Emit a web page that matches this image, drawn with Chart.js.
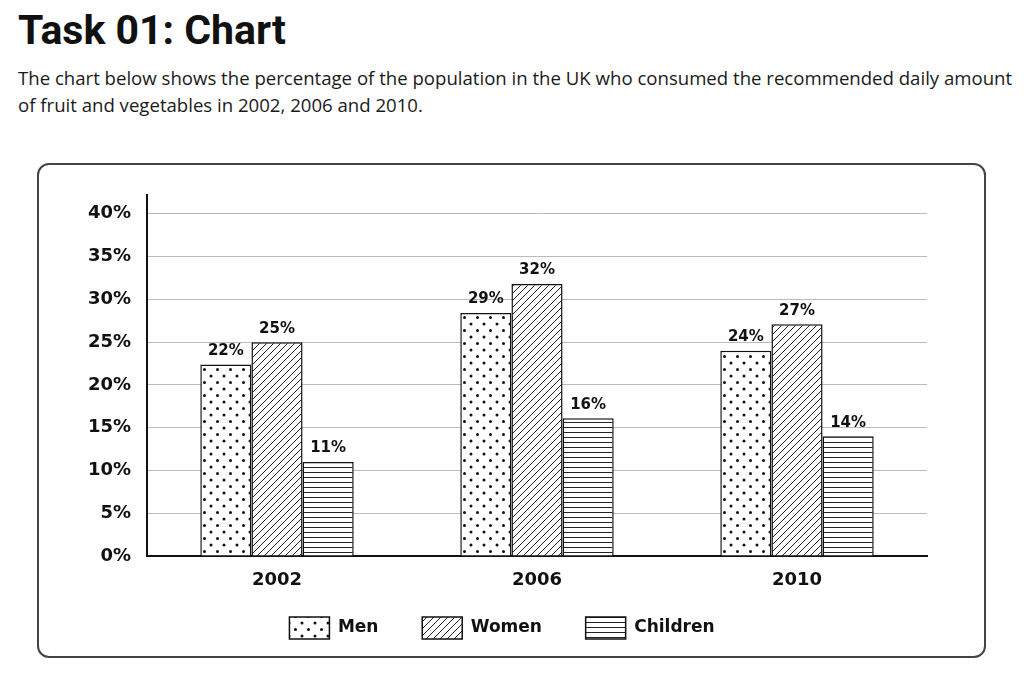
<!DOCTYPE html>
<html>
<head>
<meta charset="utf-8">
<script src="https://cdn.jsdelivr.net/npm/chart.js@4.4.0/dist/chart.umd.min.js"></script>
<style>
  html, body { margin: 0; padding: 0; background: #fff; }
  body { width: 1024px; height: 687px; position: relative; overflow: hidden; }
  #title { position: absolute; left: 18px; top: 5px; font-family: Roboto, sans-serif; font-weight: 700; font-size: 41px; color: #111; margin: 0; line-height: 50px; }
  #sub { position: absolute; left: 18px; top: 64px; width: 1010px; font-family: "Open Sans", sans-serif; font-size: 18.6px; line-height: 27px; color: #1a1a1a; margin: 0; white-space: nowrap; }
  #box { position: absolute; left: 37px; top: 163px; width: 945px; height: 491px; border: 2px solid #444; border-radius: 12px; }
  #wrap { position: absolute; left: 39px; top: 165px; width: 945px; height: 491px; }
</style>
</head>
<body>
<h1 id="title">Task 01: Chart</h1>
<p id="sub">The chart below shows the percentage of the population in the UK who consumed the recommended daily amount<br>of fruit and vegetables in 2002, 2006 and 2010.</p>
<div id="box"></div>
<div id="wrap"><canvas id="c"></canvas></div>
<script>
const categories = ["2002", "2006", "2010"];
const seriesNames = ["Men", "Women", "Children"];
const menValues = [22.4, 28.4, 24.0];
const womenValues = [25.0, 31.8, 27.1];
const childrenValues = [11.0, 16.1, 14.0];
const menLabels = ["22%", "29%", "24%"];
const womenLabels = ["25%", "32%", "27%"];
const childrenLabels = ["11%", "16%", "14%"];
const yTickValues = [0, 5, 10, 15, 20, 25, 30, 35, 40];

function makePattern(kind) {
  const c = document.createElement('canvas');
  const ctx = c.getContext('2d');
  if (kind === 'dots') {
    c.width = 13; c.height = 13;
    ctx.fillStyle = '#fff'; ctx.fillRect(0, 0, 13, 13);
    ctx.fillStyle = '#111';
    ctx.beginPath(); ctx.arc(3, 3, 1.5, 0, Math.PI * 2); ctx.fill();
    ctx.beginPath(); ctx.arc(9.5, 9.5, 1.5, 0, Math.PI * 2); ctx.fill();
  } else if (kind === 'diag') {
    c.width = 7; c.height = 7;
    ctx.fillStyle = '#fff'; ctx.fillRect(0, 0, 7, 7);
    ctx.strokeStyle = '#222'; ctx.lineWidth = 1;
    ctx.beginPath();
    ctx.moveTo(-1, 8); ctx.lineTo(8, -1);
    ctx.moveTo(-1, 1); ctx.lineTo(1, -1);
    ctx.moveTo(6, 8); ctx.lineTo(8, 6);
    ctx.stroke();
  } else {
    c.width = 8; c.height = 5;
    ctx.fillStyle = '#fff'; ctx.fillRect(0, 0, 8, 5);
    ctx.strokeStyle = '#222'; ctx.lineWidth = 1;
    ctx.beginPath(); ctx.moveTo(0, 2.5); ctx.lineTo(8, 2.5); ctx.stroke();
  }
  return document.getElementById('c').getContext('2d').createPattern(c, 'repeat');
}

const valueLabels = [menLabels, womenLabels, childrenLabels];
const labelPlugin = {
  id: 'valueLabels',
  afterDatasetsDraw(chart) {
    const ctx = chart.ctx;
    ctx.save();
    ctx.font = 'bold 15px "DejaVu Sans", sans-serif';
    ctx.fillStyle = '#111';
    ctx.textAlign = 'center';
    ctx.textBaseline = 'bottom';
    chart.data.datasets.forEach((ds, i) => {
      chart.getDatasetMeta(i).data.forEach((bar, j) => {
        ctx.fillText(valueLabels[i][j], bar.x, bar.y - 6);
      });
    });
    ctx.restore();
  }
};

const common = { borderColor: '#111', borderWidth: 1.5, barPercentage: 1.0, categoryPercentage: 0.59 };
new Chart(document.getElementById('c'), {
  type: 'bar',
  data: {
    labels: categories,
    datasets: [
      Object.assign({ label: seriesNames[0], data: menValues, backgroundColor: makePattern('dots') }, common),
      Object.assign({ label: seriesNames[1], data: womenValues, backgroundColor: makePattern('diag') }, common),
      Object.assign({ label: seriesNames[2], data: childrenValues, backgroundColor: makePattern('horiz') }, common)
    ]
  },
  options: {
    responsive: true,
    maintainAspectRatio: false,
    animation: false,
    layout: { padding: { top: 30, right: 57, left: 38, bottom: 7 } },
    plugins: {
      tooltip: { enabled: false },
      legend: {
        position: 'bottom',
        labels: {
          boxWidth: 40, boxHeight: 22, padding: 26,
          color: '#111',
          font: { family: '"DejaVu Sans", sans-serif', size: 17, weight: 'bold' },
          generateLabels: (chart) => {
            const items = Chart.defaults.plugins.legend.labels.generateLabels(chart);
            items.forEach((it, i) => { if (i < items.length - 1) it.text = it.text + '\u00a0\u00a0\u00a0'; });
            return items;
          }
        }
      }
    },
    scales: {
      x: {
        grid: { display: false, drawTicks: false },
        border: { display: true, color: '#111', width: 2 },
        afterFit: (s) => { s.height = 35; },
        ticks: { color: '#111', padding: 14, font: { family: '"DejaVu Sans", sans-serif', size: 18, weight: 'bold' } }
      },
      y: {
        min: 0, max: 42.2,
        afterBuildTicks: (s) => { s.ticks = yTickValues.map(v => ({ value: v })); },
        afterFit: (s) => { s.width = 70; },
        grid: { color: '#bbb', lineWidth: 1, drawTicks: false },
        border: { display: true, color: '#111', width: 2 },
        ticks: { color: '#111', padding: 16, callback: (v) => v + '%', font: { family: '"DejaVu Sans", sans-serif', size: 18, weight: 'bold' } }
      }
    }
  },
  plugins: [labelPlugin]
});
</script>
</body>
</html>
